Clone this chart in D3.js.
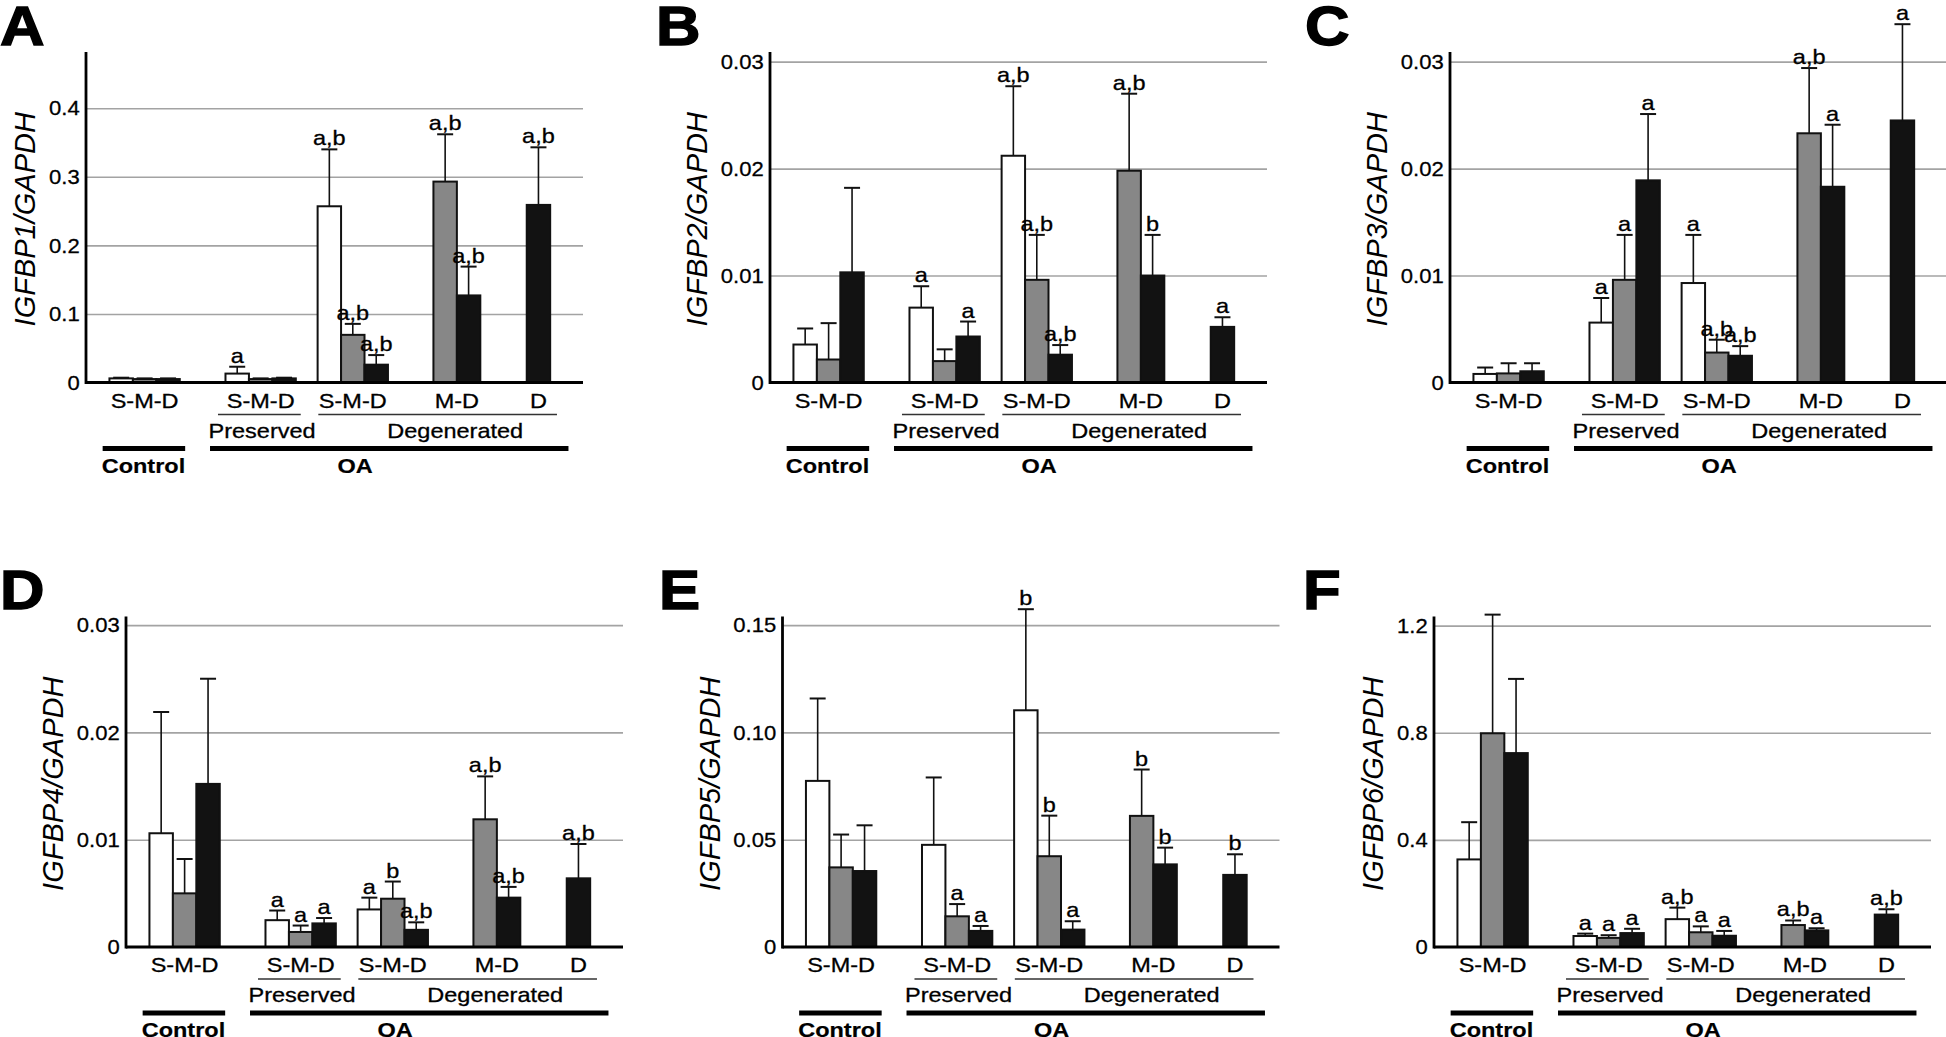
<!DOCTYPE html>
<html>
<head>
<meta charset="utf-8">
<script src="https://cdn.jsdelivr.net/npm/d3@7"></script>
<style>
  body { margin: 0; background: #fff; }
  svg { display: block; font-family: "Liberation Sans", Arial, sans-serif; }
</style>
</head>
<body>
<div id="fig"></div>
<script>
// ---- data ----
const clusterNames = ["S-M-D", "S-M-D", "S-M-D", "M-D", "D"];
const zones = ["S", "M", "D"];
const subgroupNames = ["Preserved", "Degenerated"];
const groupNames = ["Control", "OA"];
const panelLetters = ["A", "B", "C", "D", "E", "F"];
const genes = ["IGFBP1", "IGFBP2", "IGFBP3", "IGFBP4", "IGFBP5", "IGFBP6"];

// means per cluster [Control, Preserved, Deg S-M-D, Deg M-D, Deg D] x zone [S, M, D]
const igfbp1Mean = [[0.006, 0.005, 0.005], [0.013, 0.005, 0.006], [0.257, 0.0695, 0.026], [null, 0.293, 0.127], [null, null, 0.259]];
const igfbp1Err  = [[0.001, 0.001, 0.001], [0.010, 0.001, 0.001], [0.083, 0.016, 0.014], [null, 0.069, 0.042], [null, null, 0.084]];
const igfbp1Sig  = [["", "", ""], ["a", "", ""], ["a,b", "a,b", "a,b"], [null, "a,b", "a,b"], [null, null, "a,b"]];

const igfbp2Mean = [[0.00355, 0.00215, 0.0103], [0.0070, 0.0020, 0.0043], [0.0212, 0.0096, 0.0026], [null, 0.0198, 0.0100], [null, null, 0.0052]];
const igfbp2Err  = [[0.0015, 0.0034, 0.0079], [0.0020, 0.0011, 0.0014], [0.0065, 0.0042, 0.0009], [null, 0.0072, 0.0038], [null, null, 0.0009]];
const igfbp2Sig  = [["", "", ""], ["a", "", "a"], ["a,b", "a,b", "a,b"], [null, "a,b", "b"], [null, null, "a"]];

const igfbp3Mean = [[0.0008, 0.00085, 0.00105], [0.0056, 0.0096, 0.0189], [0.0093, 0.0028, 0.0025], [null, 0.0233, 0.0183], [null, null, 0.0245]];
const igfbp3Err  = [[0.0006, 0.00095, 0.00075], [0.0023, 0.0042, 0.0062], [0.0045, 0.0012, 0.0009], [null, 0.0061, 0.0058], [null, null, 0.0090]];
const igfbp3Sig  = [["", "", ""], ["a", "a", "a"], ["a", "a,b", "a,b"], [null, "a,b", "a"], [null, null, "a"]];

const igfbp4Mean = [[0.0106, 0.0050, 0.0152], [0.0025, 0.0014, 0.0022], [0.0035, 0.0045, 0.0016], [null, 0.0119, 0.0046], [null, null, 0.0064]];
const igfbp4Err  = [[0.0113, 0.0032, 0.0098], [0.0009, 0.0006, 0.0005], [0.0011, 0.0016, 0.0007], [null, 0.0040, 0.0010], [null, null, 0.0032]];
const igfbp4Sig  = [["", "", ""], ["a", "a", "a"], ["a", "b", "a,b"], [null, "a,b", "a,b"], [null, null, "a,b"]];

const igfbp5Mean = [[0.0774, 0.0371, 0.0354], [0.0476, 0.0143, 0.0075], [0.1103, 0.0423, 0.0081], [null, 0.0611, 0.0385], [null, null, 0.0336]];
const igfbp5Err  = [[0.0384, 0.0153, 0.0213], [0.0314, 0.0057, 0.0023], [0.0471, 0.0189, 0.0039], [null, 0.0216, 0.0078], [null, null, 0.0096]];
const igfbp5Sig  = [["", "", ""], ["", "a", "a"], ["b", "b", "a"], [null, "b", "b"], [null, null, "b"]];

const igfbp6Mean = [[0.327, 0.798, 0.724], [0.041, 0.034, 0.052], [0.104, 0.055, 0.042], [null, 0.082, 0.062], [null, null, 0.121]];
const igfbp6Err  = [[0.139, 0.443, 0.277], [0.009, 0.010, 0.016], [0.043, 0.022, 0.018], [null, 0.017, 0.008], [null, null, 0.020]];
const igfbp6Sig  = [["", "", ""], ["a", "a", "a"], ["a,b", "a", "a"], [null, "a,b", "a"], [null, null, "a,b"]];

// y axis: tick values, tick labels, value at the top of the axis line
const ticks1 = [0, 0.1, 0.2, 0.3, 0.4], tickLabels1 = ["0", "0.1", "0.2", "0.3", "0.4"];
const ticks2 = [0, 0.01, 0.02, 0.03], tickLabels2 = ["0", "0.01", "0.02", "0.03"];
const ticks5 = [0, 0.05, 0.10, 0.15], tickLabels5 = ["0", "0.05", "0.10", "0.15"];
const ticks6 = [0, 0.4, 0.8, 1.2], tickLabels6 = ["0", "0.4", "0.8", "1.2"];
const axisTops = [0.482, 0.0309, 0.0309, 0.0308, 0.154, 1.234];

// ---- layout ----
const W = 1946, H = 1037;
const PLOT_W = 497, AXIS_H = 330.5, UNITS = 21.2;
const SX = 1.12;                                   // the figure is slightly stretched horizontally
const clusterStart = [1.0, 5.95, 9.88, 13.82, 16.8]; // in bar widths
const subgroupSpan = [[5.63, 9.16], [9.91, 20.09]];
const subgroupX = [7.51, 15.75];
const groupSpan = [[0.71, 4.23], [5.29, 20.58]];
const groupX = [2.45, 11.48];
const fills = ["#ffffff", "#878787", "#121212"];

const panelPos = [
  { left: 86, base: 382.5, letterX: 0 },
  { left: 770, base: 382.5, letterX: 656 },
  { left: 1450, base: 382.5, letterX: 1305 },
  { left: 126, base: 947, letterX: 0 },
  { left: 782.5, base: 947, letterX: 659 },
  { left: 1434, base: 947, letterX: 1303 }
];

const panels = [
  { mean: igfbp1Mean, err: igfbp1Err, sig: igfbp1Sig, ticks: ticks1, tickLabels: tickLabels1 },
  { mean: igfbp2Mean, err: igfbp2Err, sig: igfbp2Sig, ticks: ticks2, tickLabels: tickLabels2 },
  { mean: igfbp3Mean, err: igfbp3Err, sig: igfbp3Sig, ticks: ticks2, tickLabels: tickLabels2 },
  { mean: igfbp4Mean, err: igfbp4Err, sig: igfbp4Sig, ticks: ticks2, tickLabels: tickLabels2 },
  { mean: igfbp5Mean, err: igfbp5Err, sig: igfbp5Sig, ticks: ticks5, tickLabels: tickLabels5 },
  { mean: igfbp6Mean, err: igfbp6Err, sig: igfbp6Sig, ticks: ticks6, tickLabels: tickLabels6 }
];

const svg = d3.select("#fig").append("svg")
    .attr("width", W)
    .attr("height", H);

// stretched text helper
function addText(g, x, y, str, size, opts = {}) {
    return g.append("text")
        .attr("transform", `translate(${x},${y}) scale(${opts.sx || SX},1)`)
        .attr("text-anchor", opts.anchor || "middle")
        .style("font-size", size + "px")
        .style("font-weight", opts.bold ? "bold" : "normal")
        .style("fill", "#000")
        .style("stroke", "#000")
        .style("stroke-width", opts.bold ? 0.2 : 0.3)
        .text(str);
}

class IgfbpPanel {
    constructor(parent, idx) {
        this.parent = parent;
        this.idx = idx;
        this.cfg = Object.assign({}, panels[idx], panelPos[idx]);
        this.initVis();
    }

    initVis() {
        const vis = this;
        const c = vis.cfg;

        vis.g = vis.parent.append("g")
            .attr("transform", `translate(${c.left},${c.base})`);

        vis.x = d3.scaleLinear().domain([0, UNITS]).range([0, PLOT_W]);
        vis.y = d3.scaleLinear().domain([0, axisTops[vis.idx]]).range([0, -AXIS_H]);
        const bw = vis.x(1) - vis.x(0);

        // grid lines
        const grid = vis.g.append("g")
            .call(d3.axisLeft(vis.y)
                .tickValues(c.ticks.filter(d => d > 0))
                .tickSize(-PLOT_W)
                .tickFormat(""));
        grid.select(".domain").remove();
        grid.selectAll("line").attr("stroke", "#a3a3a3").attr("stroke-width", 1.6);

        // tick labels
        const yAxis = vis.g.append("g")
            .call(d3.axisLeft(vis.y)
                .tickValues(c.ticks)
                .tickFormat((d, i) => c.tickLabels[i])
                .tickSize(0)
                .tickPadding(6));
        yAxis.select(".domain").remove();
        yAxis.selectAll("text")
            .attr("transform", "scale(1.05,1)")
            .style("font-size", "21px")
            .style("font-family", "'Liberation Sans', Arial, sans-serif")
            .style("fill", "#000")
            .style("stroke", "#000")
            .style("stroke-width", 0.3);

        // bars
        const rows = [];
        c.mean.forEach((cl, ci) => cl.forEach((m, zi) => {
            if (m !== null) rows.push({ ci, zi, m, e: c.err[ci][zi], s: c.sig[ci][zi] });
        }));

        vis.g.selectAll(".bar")
            .data(rows)
            .enter().append("rect")
            .attr("class", "bar")
            .attr("x", d => vis.x(clusterStart[d.ci] + d.zi))
            .attr("y", d => vis.y(d.m))
            .attr("width", bw)
            .attr("height", d => -vis.y(d.m))
            .style("fill", d => fills[d.zi])
            .style("stroke", "#111")
            .style("stroke-width", 2);

        // error bars
        const cx = d => vis.x(clusterStart[d.ci] + d.zi + 0.5);
        vis.g.selectAll(".err")
            .data(rows)
            .enter().append("line")
            .attr("x1", cx).attr("x2", cx)
            .attr("y1", d => vis.y(d.m))
            .attr("y2", d => vis.y(d.m + d.e))
            .style("stroke", "#111").style("stroke-width", 1.6);
        vis.g.selectAll(".cap")
            .data(rows)
            .enter().append("line")
            .attr("x1", d => cx(d) - 8).attr("x2", d => cx(d) + 8)
            .attr("y1", d => vis.y(d.m + d.e))
            .attr("y2", d => vis.y(d.m + d.e))
            .style("stroke", "#111").style("stroke-width", 2);

        // significance letters
        rows.filter(d => d.s).forEach(d => {
            addText(vis.g, cx(d), vis.y(d.m + d.e) - 4, d.s, 21);
        });

        // axis lines
        vis.g.append("line")
            .attr("x1", 0).attr("x2", 0)
            .attr("y1", vis.y(0) + 1.5).attr("y2", vis.y(axisTops[vis.idx]))
            .style("stroke", "#000").style("stroke-width", 2.8);
        vis.g.append("line")
            .attr("x1", 0).attr("x2", vis.x(UNITS))
            .attr("y1", 0).attr("y2", 0)
            .style("stroke", "#000").style("stroke-width", 3.2);

        // cluster labels under the bars
        clusterNames.forEach((name, ci) => {
            const present = c.mean[ci].map((m, zi) => m !== null ? zi : null).filter(z => z !== null);
            const mid = clusterStart[ci] + (d3.min(present) + d3.max(present) + 1) / 2;
            addText(vis.g, vis.x(mid), 25, name, 21);
        });

        // Preserved / Degenerated
        subgroupNames.forEach((name, i) => {
            vis.g.append("line")
                .attr("x1", vis.x(subgroupSpan[i][0])).attr("x2", vis.x(subgroupSpan[i][1]))
                .attr("y1", 32).attr("y2", 32)
                .style("stroke", "#333").style("stroke-width", 1.4);
            addText(vis.g, vis.x(subgroupX[i]), 55, name, 21);
        });

        // Control / OA
        groupNames.forEach((name, i) => {
            vis.g.append("line")
                .attr("x1", vis.x(groupSpan[i][0])).attr("x2", vis.x(groupSpan[i][1]))
                .attr("y1", 66).attr("y2", 66)
                .style("stroke", "#000").style("stroke-width", 5);
            addText(vis.g, vis.x(groupX[i]), 90, name, 21, { bold: true });
        });

        // y title, placed left of the widest tick label
        let maxW = 0;
        yAxis.selectAll("text").each(function () { maxW = Math.max(maxW, this.getBBox().width * 1.05); });
        const titleX = -6 - maxW - 14;
        vis.g.append("text")
            .attr("transform", `translate(${titleX},${-AXIS_H / 2 + 2}) rotate(-90)`)
            .attr("text-anchor", "middle")
            .style("font-size", "29px")
            .style("font-style", "italic")
            .style("fill", "#000")
            .text(genes[vis.idx] + "/GAPDH");

        // panel letter
        addText(vis.parent, c.letterX, c.base - 338, panelLetters[vis.idx], 56,
            { bold: true, anchor: "start", sx: 1.1 })
            .style("stroke-width", 1.4);
    }
}

panels.forEach((p, i) => new IgfbpPanel(svg, i));
</script>
</body>
</html>
